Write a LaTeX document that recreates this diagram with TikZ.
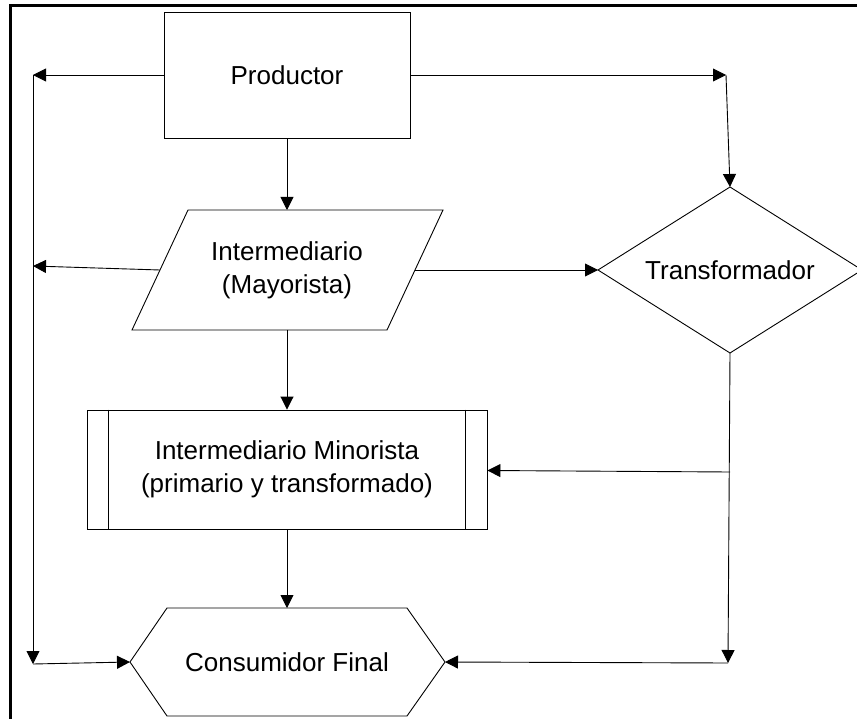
\documentclass[tikz,border=0pt]{standalone}
\usepackage{fontspec}
\setmainfont{Liberation Sans}
\usetikzlibrary{arrows.meta}
\begin{document}
\begin{tikzpicture}[x=1pt,y=-1pt,
  line width=0.9pt,
  conn/.style={-{Triangle[length=13pt,width=13pt]}},
  plain/.style={},
  shapeline/.style={draw=black,line width=0.9pt},
  lbl/.style={font=\fontsize{26pt}{33pt}\selectfont,align=center,inner sep=0pt,text=black},
  boxnode/.style={draw=black,line width=0.9pt,inner sep=0pt}]
\useasboundingbox (0,0) rectangle (857,719);
% outer frame (right and bottom edges fall outside the page)
\draw[line width=3pt] (10,760) -- (10,6) -- (880,6);

% Productor
\node[boxnode,minimum width=246pt,minimum height=126pt,lbl] (prod) at (287,75) {Productor};

% Intermediario (Mayorista) - parallelogram
\draw[shapeline] (188,210) -- (443,210) -- (387,330) -- (132,330) -- cycle;
\node[lbl] (inter) at (287,270) {Intermediario\\(Mayorista)};
\coordinate (interN) at (287,210);
\coordinate (interS) at (287,330);
\coordinate (interW) at (160,270);
\coordinate (interE) at (415,270);

% Transformador - diamond
\draw[shapeline] (730,187) -- (862,270) -- (730,353) -- (598,270) -- cycle;
\node[lbl] (trans) at (730,270) {Transformador};
\coordinate (transN) at (730,187);
\coordinate (transW) at (598,270);
\coordinate (transS) at (730,353);

% Intermediario Minorista - predefined process box
\node[boxnode,minimum width=400pt,minimum height=119pt,lbl] (mino) at (287,469.5) {Intermediario Minorista\\(primario y transformado)};
\draw[shapeline] ([xshift=22pt]mino.north west) -- ([xshift=22pt]mino.south west);
\draw[shapeline] ([xshift=-22pt]mino.north east) -- ([xshift=-22pt]mino.south east);

% Consumidor Final - hexagon
\draw[shapeline] (167,608) -- (407,608) -- (445,662) -- (407,716) -- (167,716) -- (130,662) -- cycle;
\node[lbl] (cons) at (287,662) {Consumidor Final};
\coordinate (consN) at (287,608);
\coordinate (consW) at (130,662);
\coordinate (consE) at (445,662);

% junction points
\coordinate (l1) at (33,75);
\coordinate (l2) at (33,266);
\coordinate (l3) at (33,664);
\coordinate (r1) at (726,75);
\coordinate (r2) at (730,472);
\coordinate (r3) at (728,663);

% connectors
\draw[conn] (prod.west) -- (l1);
\draw[conn] (prod.east) -- (r1);
\draw[conn] (r1) -- (transN);
\draw[conn] (prod.south) -- (interN);
\draw[conn] (interW) -- (l2);
\draw[conn] (interE) -- (transW);
\draw[conn] (interS) -- (mino.north);
\draw[conn] (mino.south) -- (consN);
\draw[conn] (l1) -- (l3);
\draw[conn] (l3) -- (consW);
\draw[conn] (transS) -- (r3);
\draw[conn] (r2) -- ([yshift=-1pt]mino.east);
\draw[conn] (r3) -- (consE);
\end{tikzpicture}
\end{document}
